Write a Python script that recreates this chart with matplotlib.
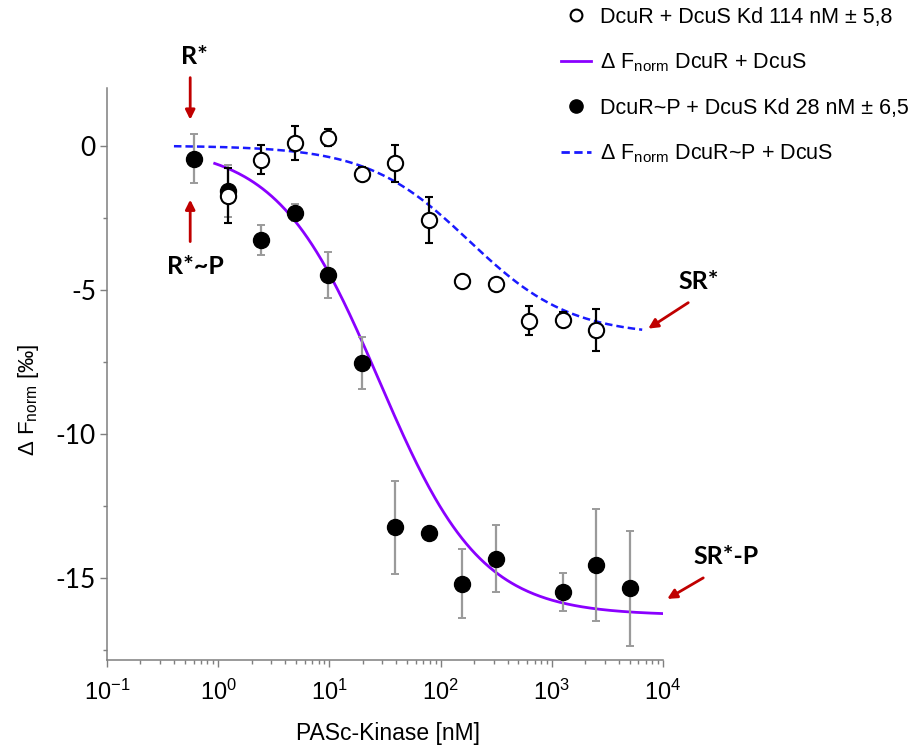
import numpy as np
import matplotlib
matplotlib.use('Agg')
import matplotlib.pyplot as plt
from matplotlib.lines import Line2D

plt.rcParams['font.family'] = ['Liberation Sans', 'DejaVu Sans']
plt.rcParams['mathtext.fontset'] = 'custom'
plt.rcParams['mathtext.rm'] = 'Liberation Sans'
plt.rcParams['mathtext.it'] = 'Liberation Sans:italic'
plt.rcParams['mathtext.bf'] = 'Liberation Sans:bold'

# DcuR + DcuS (open circles)
open_conc = [1.22, 2.44, 4.88, 9.77, 19.5, 39.1, 78.1, 156, 312, 625, 1250, 2500]
open_y = [-1.74, -0.49, 0.09, 0.27, -0.97, -0.62, -2.59, -4.71, -4.79, -6.07, -6.04, -6.39]
open_err = [0.95, 0.5, 0.58, 0.3, 0.23, 0.65, 0.8, 0.1, 0.1, 0.5, 0.25, 0.73]

# DcuR~P + DcuS (filled circles)
fill_conc = [0.61, 1.22, 2.44, 4.88, 9.77, 19.5, 39.1, 78.1, 156, 312, 1250, 2500, 5000]
fill_y = [-0.45, -1.56, -3.29, -2.33, -4.48, -7.53, -13.25, -13.45, -15.2, -14.33, -15.49, -14.56, -15.36]
fill_err = [0.85, 0.9, 0.52, 0.3, 0.8, 0.9, 1.6, 0.1, 1.2, 1.15, 0.65, 1.95, 2.0]

# binding fits: amplitude, Kd [nM], hill slope, concentration range
fit_open = dict(amp=-6.6, kd=180.0, n=0.95, lo=0.4, hi=6500)
fit_fill = dict(amp=-16.3, kd=28.0, n=0.95, lo=0.93, hi=10000)

labels = ['DcuR + DcuS Kd 114 nM \u00b1 5,8',
          '\u0394 F$_\\mathregular{norm}$ DcuR + DcuS',
          'DcuR~P + DcuS Kd 28 nM \u00b1 6,5',
          '\u0394 F$_\\mathregular{norm}$ DcuR~P + DcuS']


def binding(p):
    x = np.logspace(np.log10(p['lo']), np.log10(p['hi']), 300)
    return x, p['amp'] * x**p['n'] / (p['kd']**p['n'] + x**p['n'])


fig = plt.figure(figsize=(9.23, 7.45), dpi=100)
ax = fig.add_axes([107/923, 1 - 660/745, 556/923, 572/745])

xo, yo = binding(fit_open)
xf, yf = binding(fit_fill)
ax.plot(xf, yf, color='#8a00ff', lw=2, zorder=2)
ax.plot(xo, yo, color='#1a1aff', lw=1.8, ls=(0, (3, 1.6)), zorder=2)

ax.errorbar(fill_conc, fill_y, yerr=fill_err, fmt='o', color='black', ms=11.5,
            ecolor='#9a9a9a', elinewidth=1.6, capsize=3, capthick=1.4, zorder=3)
ax.errorbar(open_conc, open_y, yerr=open_err, fmt='o', mfc='white', mec='black', mew=1.5,
            ms=11, ecolor='black', elinewidth=1.6, capsize=3, capthick=1.4, zorder=4)

ax.set_xscale('log')
ax.set_xlim(0.1, 10000)
ax.set_ylim(-17.85, 2.0)
ax.set_yticks([0, -5, -10, -15])
ax.set_yticks([-2.5, -7.5, -12.5, -17.5], minor=True)
ax.set_yticklabels(['0', '-5', '-10', '-15'])

for s in ['top', 'right']:
    ax.spines[s].set_visible(False)
for s in ['left', 'bottom']:
    ax.spines[s].set_color('#7f7f7f')
    ax.spines[s].set_linewidth(1.1)
ax.tick_params(which='major', length=5, width=1, color='#7f7f7f', direction='out')
ax.tick_params(which='minor', length=3, width=1, color='#7f7f7f', direction='out')
ax.tick_params(axis='x', labelsize=17, pad=9)
ax.tick_params(axis='y', labelsize=19, pad=3)
for lbl in ax.get_yticklabels():
    lbl.set_fontfamily('Lato')

ax.set_xlabel('PASc-Kinase [nM]', fontsize=16.5, va='center')
ax.xaxis.set_label_coords(0.505, -0.128)
ax.set_ylabel('\u0394 F$_\\mathregular{norm}$ [\u2030]', fontsize=16, va='center')
ax.yaxis.set_label_coords(-0.142, 0.4545)

# state markers
red = '#c00000'
bold = dict(fontsize=18, fontweight='bold', family='Lato', ha='center', va='center')
arrow = dict(arrowstyle='-|>', color=red, lw=2, mutation_scale=14, shrinkA=0, shrinkB=0)
ax.annotate('', xy=(0.56, 0.9), xytext=(0.56, 2.36), arrowprops=arrow, annotation_clip=False)
ax.text(0.608, 3.09, 'R*', clip_on=False, **bold)
ax.annotate('', xy=(0.56, -1.875), xytext=(0.56, -3.33), arrowprops=arrow, annotation_clip=False)
ax.text(0.62, -4.2, 'R*~P', clip_on=False, **bold)
ax.annotate('', xy=(10**3.867, -6.35), xytext=(10**4.227, -5.45), arrowprops=arrow, annotation_clip=False)
ax.text(10**4.317, -4.72, 'SR*', clip_on=False, **bold)
ax.annotate('', xy=(10**4.038, -15.73), xytext=(10**4.362, -15.0), arrowprops=arrow, annotation_clip=False)
ax.text(10**4.568, -14.27, 'SR*-P', clip_on=False, **bold)

handles = [
    Line2D([], [], ls='none', marker='o', mfc='white', mec='black', mew=1.5, ms=8.5),
    Line2D([], [], color='#8a00ff', lw=2),
    Line2D([], [], ls='none', marker='o', color='black', ms=9.5),
    Line2D([], [], color='#1a1aff', lw=2, ls=(0, (3, 1.6))),
]
fig.legend(handles, labels, loc='upper left', bbox_to_anchor=(561/923, 1 - 7/745),
           frameon=False, fontsize=15.5, handlelength=1.4, handletextpad=0.4,
           labelspacing=1.1, borderpad=0, borderaxespad=0)

fig.savefig('out.png', dpi=100)
